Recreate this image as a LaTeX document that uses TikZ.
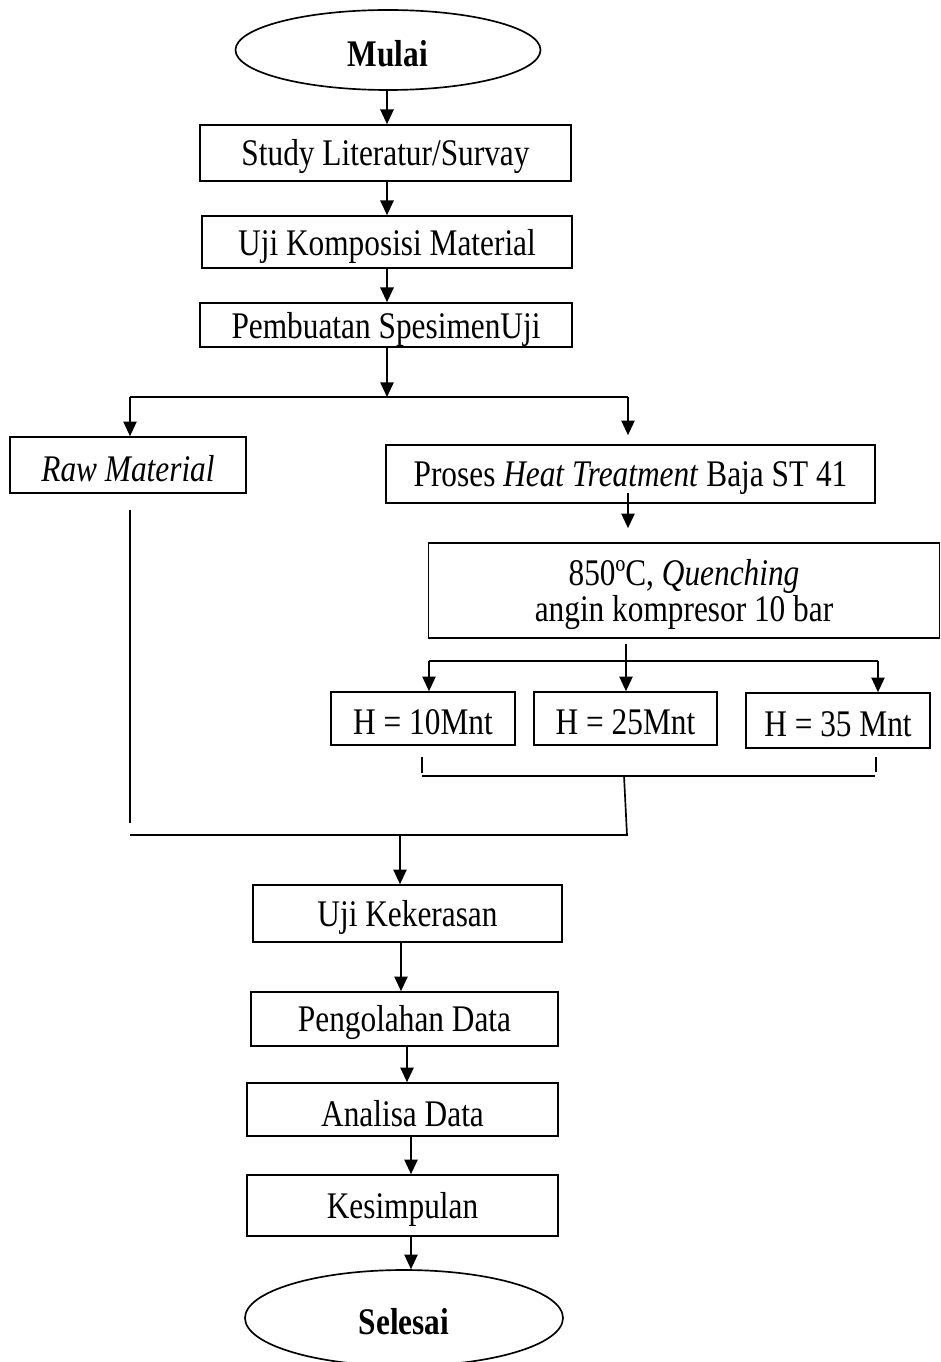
\documentclass[tikz,border=0pt]{standalone}
\usepackage{graphicx}
\usepackage{fontspec}
\setmainfont{Liberation Serif}
\usetikzlibrary{arrows.meta,shapes.geometric}
\newcommand{\vs}[1]{\raisebox{-3pt}[\height][\depth]{\scalebox{1}[1.2]{#1}}}
\begin{document}
\begin{tikzpicture}[x=0.75pt,y=-0.75pt,
  sz/.style 2 args={minimum width=#1*0.75pt, minimum height=#2*0.75pt},
  box/.style={draw, line width=1.25pt, inner sep=0pt, font=\fontsize{23.5}{27}\selectfont, align=center},
  oval/.style={ellipse, draw, line width=1.25pt, inner sep=0pt, font=\fontsize{23.5}{27}\selectfont\bfseries},
  arr/.style={line width=1.25pt, -{Triangle[length=11pt,width=10pt]}},
  ln/.style={line width=1.25pt}]
\useasboundingbox (0,0) rectangle (941,1362);

% nodes
\node[oval, sz={305}{80}] (mulai) at (388,50) {\vs{Mulai}};
\node[box, sz={371}{56}] (study) at (385.5,153) {\vs{Study Literatur/Survay}};
\node[box, sz={370}{52}] (komp) at (387,242) {\vs{Uji Komposisi Material}};
\node[box, sz={372}{44}] (spes) at (386,325) {\vs{Pembuatan SpesimenUji}};
\node[box, sz={236}{56}] (raw) at (128,465) {\vs{\textit{Raw Material}}};
\node[box, sz={489}{58}] (proses) at (630.5,474) {\vs{Proses \textit{Heat Treatment} Baja ST 41}};
\node[box, sz={511}{95}] (quench) at (684,590.5) {\vs{850ºC, \textit{Quenching}}\\\vs{angin kompresor 10 bar}};
\node[box, sz={184}{53}] (h10) at (423,718.5) {\vs{H = 10Mnt}};
\node[box, sz={183}{53}] (h25) at (625.5,718.5) {\vs{H = 25Mnt}};
\node[box, sz={184}{55}] (h35) at (838,720.5) {\vs{H = 35 Mnt}};
\node[box, sz={309}{57}] (keras) at (407.5,913.5) {\vs{Uji Kekerasan}};
\node[box, sz={307}{54}] (olah) at (404.5,1019) {\vs{Pengolahan Data}};
\node[box, sz={311}{53}] (analisa) at (402.5,1109.5) {\vs{Analisa Data}};
\node[box, sz={311}{61}] (simpul) at (402.5,1205.5) {\vs{Kesimpulan}};
\node[oval, sz={318}{96}] (selesai) at (404,1318) {\vs{Selesai}};

% helper coordinates
\coordinate (cx1) at (387,0);
\coordinate (b0) at (387,397);
\coordinate (bl) at (130,397);
\coordinate (br) at (628,397);
\coordinate (q0) at (626,661);
\coordinate (ql) at (429,661);
\coordinate (qr) at (878,661);
\coordinate (t1) at (422,757);
\coordinate (t1b) at (422,773);
\coordinate (t2) at (876,757);
\coordinate (t2b) at (876,772);
\coordinate (m1) at (422,776);
\coordinate (m2) at (875,776);
\coordinate (mc) at (624,776);
\coordinate (mc2) at (627,835);
\coordinate (r1) at (130,510);
\coordinate (r2) at (130,823);
\coordinate (g1) at (130,835);
\coordinate (g2) at (628,835);
\coordinate (mg) at (400,835);
\coordinate (cx2) at (401,0);
\coordinate (cx3) at (407,0);
\coordinate (cx4) at (411,0);

% connectors
\draw[arr] (mulai.south -| cx1) -- (study.north -| cx1);
\draw[arr] (study.south -| cx1) -- (komp.north -| cx1);
\draw[arr] (komp.south -| cx1) -- (spes.north -| cx1);
\draw[arr] (spes.south -| b0) -- (b0);
\draw[ln] (bl) -- (br);
\draw[arr] (bl) -- (raw.north -| bl);
\draw[arr, shorten >=6.75pt] (br) -- (proses.north -| br);
\draw[arr, shorten <=-8.25pt, shorten >=10.5pt] (proses.south -| br) -- (quench.north -| br);
\draw[arr, shorten <=3.75pt] (quench.south -| q0) -- (h25.north -| q0);
\draw[ln] (ql) -- (qr);
\draw[arr] (ql) -- (h10.north -| ql);
\draw[arr] (qr) -- (h35.north -| qr);
\draw[ln] (t1) -- (t1b);
\draw[ln] (t2) -- (t2b);
\draw[ln] (m1) -- (m2);
\draw[ln] (mc) -- (mc2);
\draw[ln] (r1) -- (r2);
\draw[ln] (g1) -- (g2);
\draw[arr] (mg) -- (keras.north -| mg);
\draw[arr] (keras.south -| cx2) -- (olah.north -| cx2);
\draw[arr] (olah.south -| cx3) -- (analisa.north -| cx3);
\draw[arr] (analisa.south -| cx4) -- (simpul.north -| cx4);
\draw[arr] (simpul.south -| cx4) -- (selesai.north -| cx4);
\end{tikzpicture}
\end{document}
